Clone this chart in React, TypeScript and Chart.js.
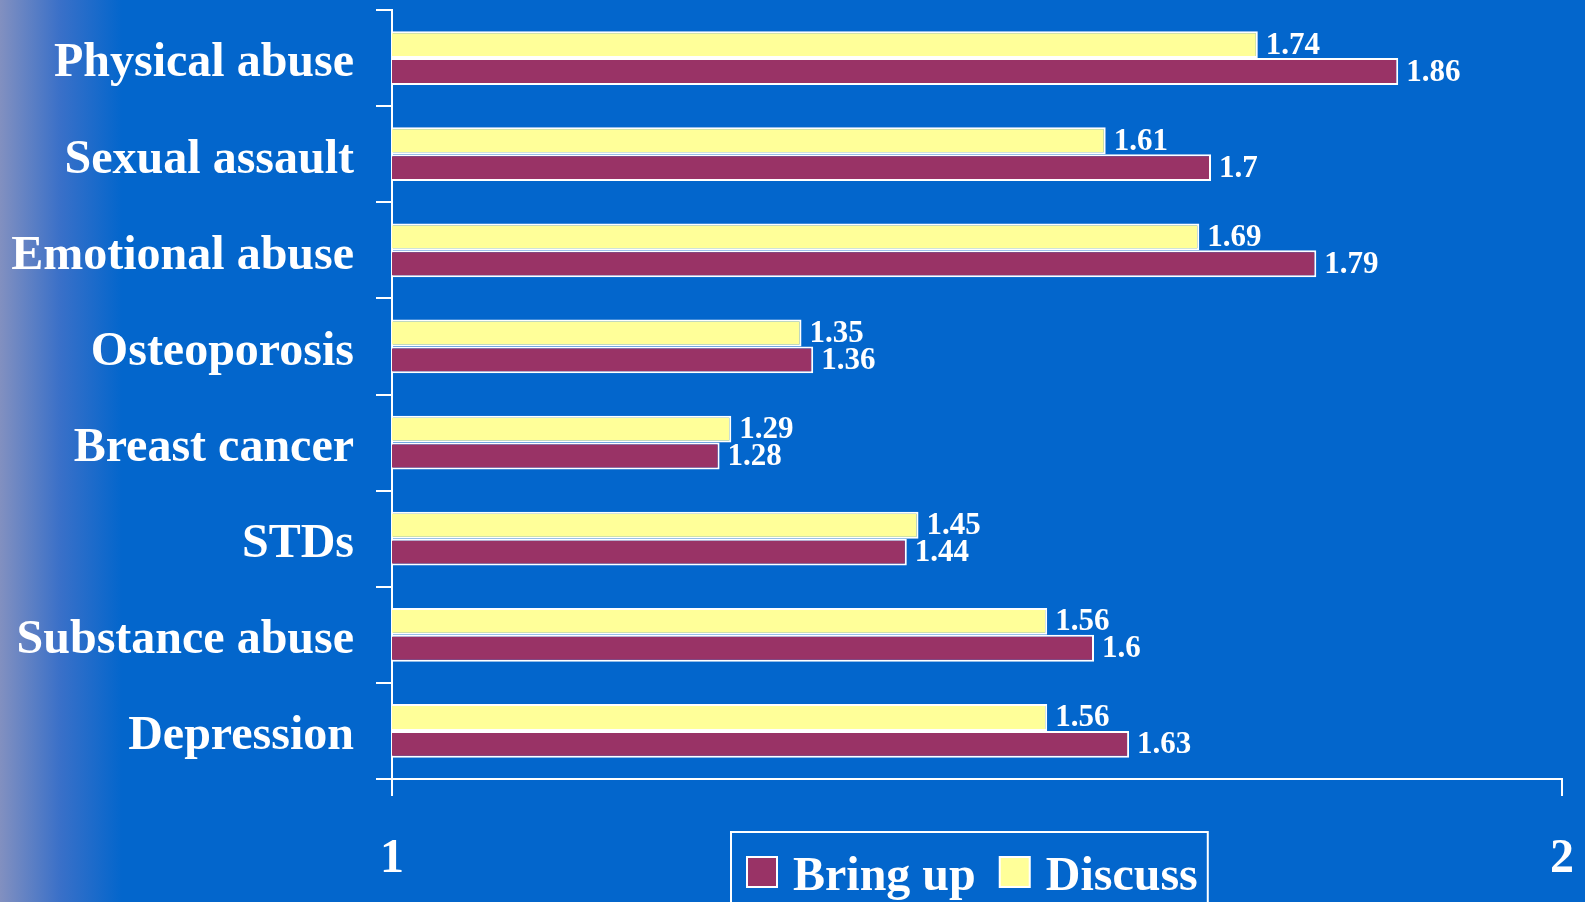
import React, { useEffect, useRef } from "react";
import { Chart, registerables } from "chart.js";
Chart.register(...registerables);

const categories = [
  "Physical abuse",
  "Sexual assault",
  "Emotional abuse",
  "Osteoporosis",
  "Breast cancer",
  "STDs",
  "Substance abuse",
  "Depression",
];
const bringUp = [1.86, 1.7, 1.79, 1.36, 1.28, 1.44, 1.6, 1.63];
const discuss = [1.74, 1.61, 1.69, 1.35, 1.29, 1.45, 1.56, 1.56];
const xMin = 1;
const xMax = 2;
const seriesNames = ["Bring up", "Discuss"];

const FONT = '"Liberation Serif", "Times New Roman", serif';
const PURPLE = "#993366";
const YELLOW = "#FFFF99";

const valueLabels = {
  id: "valueLabels",
  afterDatasetsDraw(chart: any) {
    const ctx = chart.ctx;
    ctx.save();
    ctx.font = `bold 31px ${FONT}`;
    ctx.fillStyle = "#FFFFFF";
    ctx.textAlign = "left";
    ctx.textBaseline = "middle";
    chart.data.datasets.forEach((ds: any, i: number) => {
      const meta = chart.getDatasetMeta(i);
      meta.data.forEach((el: any, j: number) => {
        ctx.fillText(String(ds.data[j]), el.x + 8, el.y + 1);
      });
    });
    ctx.restore();
  },
};

const boxLegend = {
  id: "boxLegend",
  afterDraw(chart: any) {
    const ctx = chart.ctx;
    const area = chart.chartArea;
    ctx.save();
    ctx.font = `bold 48px ${FONT}`;
    const items = chart.data.datasets
      .map((ds: any) => ({ label: ds.label, color: ds.backgroundColor }))
      .reverse();
    const sq = 30;
    const padL = 16;
    const gapSq = 16;
    const gapItem = 24;
    const padR = 10;
    let w = padL + padR;
    items.forEach((it: any, i: number) => {
      w += sq + gapSq + ctx.measureText(it.label).width;
      if (i < items.length - 1) w += gapItem;
    });
    const left = Math.round((area.left + area.right) / 2 - 8 - w / 2);
    const top = 832;
    ctx.strokeStyle = "#FFFFFF";
    ctx.lineWidth = 2;
    ctx.strokeRect(left, top, w, 120);
    let x = left + padL;
    const sqTop = 857;
    items.forEach((it: any) => {
      ctx.fillStyle = it.color;
      ctx.fillRect(x, sqTop, sq, sq);
      ctx.strokeStyle = "#FFFFFF";
      ctx.lineWidth = 2;
      ctx.strokeRect(x, sqTop, sq, sq);
      x += sq + gapSq;
      ctx.fillStyle = "#FFFFFF";
      ctx.textAlign = "left";
      ctx.textBaseline = "alphabetic";
      ctx.fillText(it.label, x, 890);
      x += ctx.measureText(it.label).width + gapItem;
    });
    ctx.restore();
  },
};

export default function App() {
  const ref = useRef<HTMLCanvasElement | null>(null);
  useEffect(() => {
    document.body.style.margin = "0";
    document.body.style.overflow = "hidden";
    if (!ref.current) return;
    const chart = new Chart(ref.current, {
      type: "bar",
      data: {
        labels: categories,
        datasets: [
          {
            label: seriesNames[1],
            data: discuss,
            backgroundColor: YELLOW,
            borderColor: "#FFFFFF",
            borderWidth: 2,
            borderSkipped: false,
          },
          {
            label: seriesNames[0],
            data: bringUp,
            backgroundColor: PURPLE,
            borderColor: "#FFFFFF",
            borderWidth: 2,
            borderSkipped: false,
          },
        ],
      },
      options: {
        indexAxis: "y",
        animation: false,
        responsive: true,
        maintainAspectRatio: false,
        layout: { padding: { top: 10, right: 23, left: 0, bottom: 0 } },
        datasets: { bar: { categoryPercentage: 0.56, barPercentage: 1.0 } },
        plugins: {
          legend: { display: false },
          tooltip: { enabled: false },
        },
        scales: {
          x: {
            type: "linear",
            min: xMin,
            max: xMax,
            ticks: {
              stepSize: 1,
              color: "#FFFFFF",
              padding: 35,
              font: { family: FONT, size: 48, weight: "bold" },
            },
            grid: {
              display: true,
              drawOnChartArea: false,
              drawTicks: true,
              tickLength: 17,
              color: "#FFFFFF",
              lineWidth: 2,
            },
            border: { display: true, color: "#FFFFFF", width: 2 },
            afterFit: (s: any) => {
              s.height = 123;
              s.paddingLeft = 0;
              s.paddingRight = 0;
            },
          },
          y: {
            type: "category",
            ticks: {
              color: "#FFFFFF",
              padding: 22,
              labelOffset: 6,
              font: { family: FONT, size: 48, weight: "bold" },
            },
            grid: {
              display: true,
              offset: true,
              drawOnChartArea: false,
              drawTicks: true,
              tickLength: 16,
              color: "#FFFFFF",
              lineWidth: 2,
            },
            border: { display: true, color: "#FFFFFF", width: 2 },
            afterFit: (s: any) => {
              s.width = 392;
              s.paddingTop = 0;
              s.paddingBottom = 0;
            },
          },
        },
      },
      plugins: [valueLabels, boxLegend],
    } as any);
    return () => chart.destroy();
  }, []);
  return (
    <div
      style={{
        position: "relative",
        width: 1585,
        height: 902,
        background: "linear-gradient(to right, #8290C0 0px, #3A70C8 60px, #0366CC 122px, #0366CC 100%)",
      }}
    >
      <canvas ref={ref} />
    </div>
  );
}
